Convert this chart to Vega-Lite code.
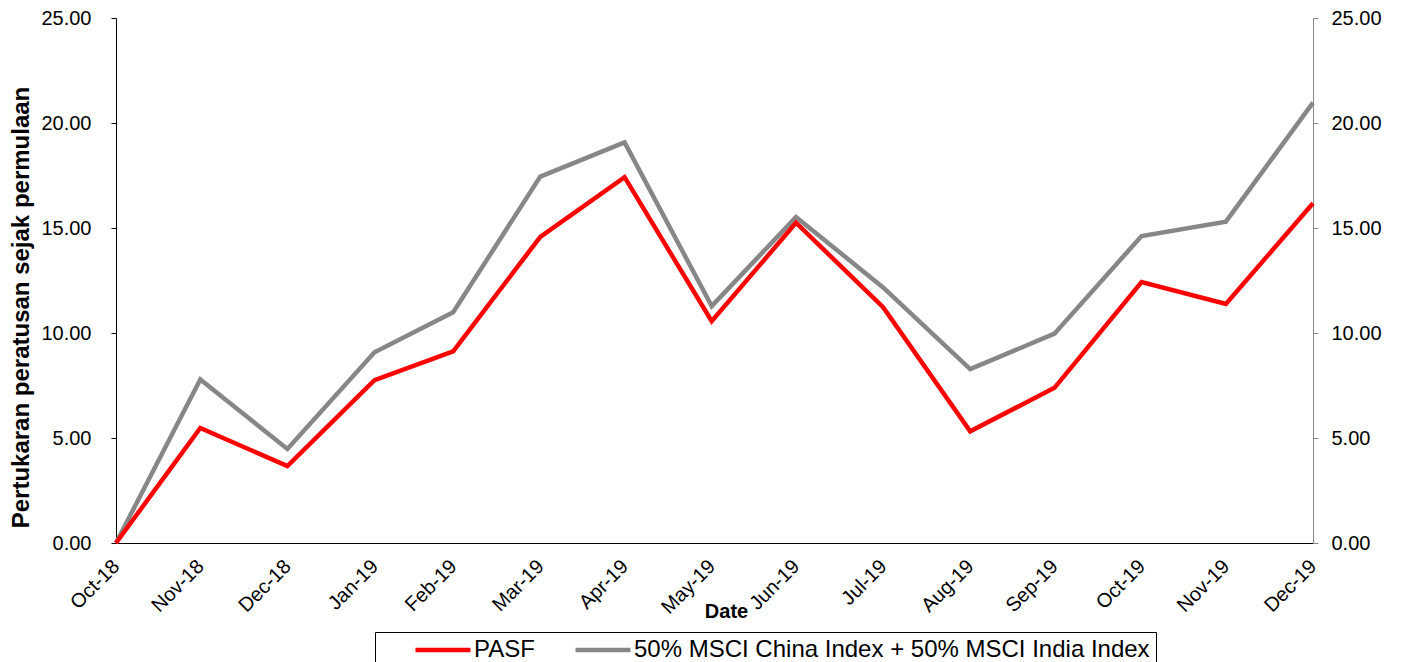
{
  "$schema": "https://vega.github.io/schema/vega-lite/v6.json",
  "width": 1197,
  "height": 525,
  "autosize": {"type": "none"},
  "padding": {"left": 116, "top": 18, "right": 90, "bottom": 119},
  "background": "white",
  "config": {
    "font": "Liberation Sans",
    "view": {"stroke": null},
    "axis": {"grid": false, "labelColor": "#000000", "labelFont": "Liberation Sans", "titleFont": "Liberation Sans", "titleColor": "#000000"}
  },
  "data": {
    "values": [
      {"date": "2018-10-31", "series": "50% MSCI China Index + 50% MSCI India Index", "value": 0.0},
      {"date": "2018-11-30", "series": "50% MSCI China Index + 50% MSCI India Index", "value": 7.79},
      {"date": "2018-12-31", "series": "50% MSCI China Index + 50% MSCI India Index", "value": 4.48},
      {"date": "2019-01-31", "series": "50% MSCI China Index + 50% MSCI India Index", "value": 9.08},
      {"date": "2019-02-28", "series": "50% MSCI China Index + 50% MSCI India Index", "value": 10.99},
      {"date": "2019-03-31", "series": "50% MSCI China Index + 50% MSCI India Index", "value": 17.45},
      {"date": "2019-04-30", "series": "50% MSCI China Index + 50% MSCI India Index", "value": 19.08},
      {"date": "2019-05-31", "series": "50% MSCI China Index + 50% MSCI India Index", "value": 11.28},
      {"date": "2019-06-30", "series": "50% MSCI China Index + 50% MSCI India Index", "value": 15.52},
      {"date": "2019-07-31", "series": "50% MSCI China Index + 50% MSCI India Index", "value": 12.17},
      {"date": "2019-08-31", "series": "50% MSCI China Index + 50% MSCI India Index", "value": 8.28},
      {"date": "2019-09-30", "series": "50% MSCI China Index + 50% MSCI India Index", "value": 9.97},
      {"date": "2019-10-31", "series": "50% MSCI China Index + 50% MSCI India Index", "value": 14.62},
      {"date": "2019-11-30", "series": "50% MSCI China Index + 50% MSCI India Index", "value": 15.3},
      {"date": "2019-12-31", "series": "50% MSCI China Index + 50% MSCI India Index", "value": 20.97},
      {"date": "2018-10-31", "series": "PASF", "value": 0.0},
      {"date": "2018-11-30", "series": "PASF", "value": 5.48},
      {"date": "2018-12-31", "series": "PASF", "value": 3.66},
      {"date": "2019-01-31", "series": "PASF", "value": 7.75},
      {"date": "2019-02-28", "series": "PASF", "value": 9.13},
      {"date": "2019-03-31", "series": "PASF", "value": 14.58},
      {"date": "2019-04-30", "series": "PASF", "value": 17.42},
      {"date": "2019-05-31", "series": "PASF", "value": 10.56},
      {"date": "2019-06-30", "series": "PASF", "value": 15.25},
      {"date": "2019-07-31", "series": "PASF", "value": 11.23},
      {"date": "2019-08-31", "series": "PASF", "value": 5.32},
      {"date": "2019-09-30", "series": "PASF", "value": 7.39},
      {"date": "2019-10-31", "series": "PASF", "value": 12.43},
      {"date": "2019-11-30", "series": "PASF", "value": 11.38},
      {"date": "2019-12-31", "series": "PASF", "value": 16.18}
    ]
  },
  "encoding": {
    "x": {
      "field": "date",
      "type": "temporal",
      "scale": {
        "type": "utc",
        "domain": [
          {"year": 2018, "month": 10, "date": 31, "utc": true},
          {"year": 2019, "month": 12, "date": 31, "utc": true}
        ]
      },
      "axis": {
        "orient": "bottom",
        "values": [
          {"year": 2018, "month": 10, "date": 31, "utc": true},
          {"year": 2018, "month": 11, "date": 30, "utc": true},
          {"year": 2018, "month": 12, "date": 31, "utc": true},
          {"year": 2019, "month": 1, "date": 31, "utc": true},
          {"year": 2019, "month": 2, "date": 28, "utc": true},
          {"year": 2019, "month": 3, "date": 31, "utc": true},
          {"year": 2019, "month": 4, "date": 30, "utc": true},
          {"year": 2019, "month": 5, "date": 31, "utc": true},
          {"year": 2019, "month": 6, "date": 30, "utc": true},
          {"year": 2019, "month": 7, "date": 31, "utc": true},
          {"year": 2019, "month": 8, "date": 31, "utc": true},
          {"year": 2019, "month": 9, "date": 30, "utc": true},
          {"year": 2019, "month": 10, "date": 31, "utc": true},
          {"year": 2019, "month": 11, "date": 30, "utc": true},
          {"year": 2019, "month": 12, "date": 31, "utc": true}
        ],
        "labelExpr": "utcFormat(datum.value, '%b-%y')",
        "domainColor": "#000000",
        "domainWidth": 1,
        "ticks": false,
        "labelAngle": -45,
        "labelAlign": "right",
        "labelBaseline": "middle",
        "labelPadding": 20,
        "labelFontSize": 20,
        "labelOverlap": false,
        "labelFlush": false,
        "title": "Date",
        "titleFontSize": 20,
        "titleFontWeight": "bold",
        "titleX": 610,
        "titleY": 74,
        "titleAlign": "center",
        "titleBaseline": "alphabetic"
      }
    },
    "color": {
      "field": "series",
      "type": "nominal",
      "scale": {
        "domain": ["PASF", "50% MSCI China Index + 50% MSCI India Index"],
        "range": ["#FF0000", "#878787"]
      },
      "legend": {
        "orient": "none",
        "legendX": 259,
        "legendY": 614,
        "direction": "horizontal",
        "title": null,
        "strokeColor": "#000000",
        "fillColor": "#FFFFFF",
        "padding": 6,
        "symbolType": "M-3,0H3",
        "symbolSize": 336,
        "symbolStrokeWidth": 4.5,
        "symbolOffset": 50,
        "columnPadding": 6,
        "labelFontSize": 24,
        "labelFont": "Liberation Sans",
        "labelColor": "#000000",
        "labelOffset": 19,
        "labelLimit": 0,
        "labelExpr": "datum.value === 'PASF' ? datum.label : datum.label + '\u00a0\u00a0\u00a0'"
      }
    }
  },
  "layer": [
    {
      "transform": [{"filter": "datum.series !== 'PASF'"}],
      "mark": {"type": "line", "strokeWidth": 4.5},
      "encoding": {
        "y": {
          "field": "value",
          "type": "quantitative",
          "scale": {"domain": [0, 25], "nice": false, "zero": true},
          "axis": {
            "orient": "left",
            "values": [0, 5, 10, 15, 20, 25],
            "format": ".2f",
            "domainColor": "#000000",
            "tickColor": "#000000",
            "tickSize": 5,
            "labelPadding": 20,
            "labelFontSize": 20,
            "title": "Pertukaran peratusan sejak permulaan",
            "titleFontSize": 24,
            "titleFontWeight": "bold",
            "titleAngle": 270,
            "titleX": -95,
            "titleY": 289,
            "titleAlign": "center",
            "titleBaseline": "middle"
          }
        }
      }
    },
    {
      "transform": [{"filter": "datum.series === 'PASF'"}],
      "mark": {"type": "line", "strokeWidth": 4.5},
      "encoding": {
        "y": {
          "field": "value",
          "type": "quantitative",
          "scale": {"domain": [0, 25], "nice": false, "zero": true},
          "axis": {
            "orient": "right",
            "values": [0, 5, 10, 15, 20, 25],
            "format": ".2f",
            "domainColor": "#878787",
            "tickColor": "#878787",
            "tickSize": 5,
            "labelPadding": 13,
            "labelFontSize": 20,
            "title": null
          }
        }
      }
    }
  ],
  "resolve": {"scale": {"y": "independent"}}
}
